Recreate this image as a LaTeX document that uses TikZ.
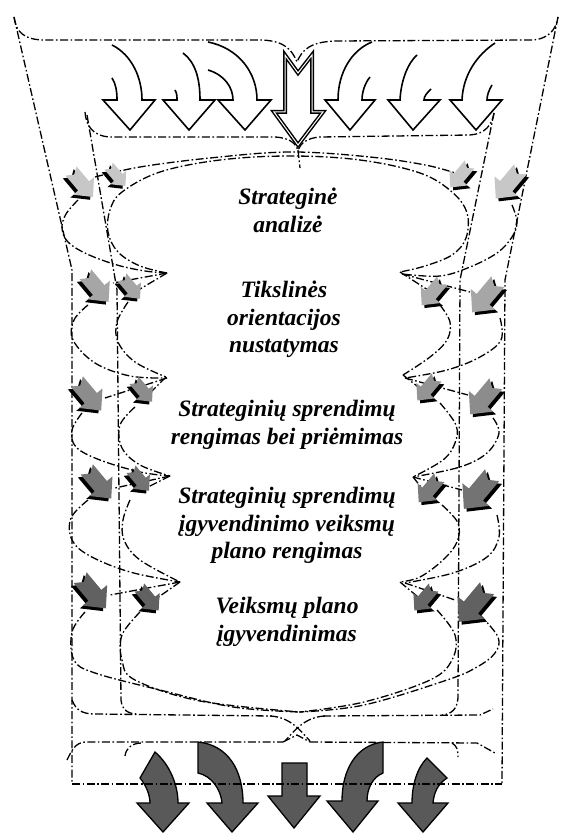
\documentclass[tikz,border=0pt]{standalone}
\usepackage{fontspec}
\setmainfont{Liberation Serif}
\newfontfamily\lblfont{Liberation Serif Bold Italic}
\newcommand\garr[6]{%
 \begin{scope}[shift={(#1,#2)}]
   \begin{scope}[shift={(#6,2.8)},rotate=#3,scale=#4]
     \fill[black] (-1,-0.42) -- (0.15,-0.42) -- (0.15,-0.8) -- (1,0) -- (0.15,0.8) -- (0.15,0.42) -- (-1,0.42) -- (-0.72,0) -- cycle;
   \end{scope}
   \begin{scope}[rotate=#3,scale=#4]
     \fill[#5] (-1,-0.42) -- (0.15,-0.42) -- (0.15,-0.8) -- (1,0) -- (0.15,0.8) -- (0.15,0.42) -- (-1,0.42) -- (-0.72,0) -- cycle;
   \end{scope}
 \end{scope}}
\begin{document}
\begin{tikzpicture}[x=1pt,y=-1pt,
  dd/.style={line width=1.3pt, dash pattern=on 8pt off 2.5pt on 1.6pt off 2.5pt},
  hollow/.style={draw=black, line width=1.6pt, fill=white, line join=miter},
  dark/.style={draw=black, line width=1.3pt, fill=black!65},
  lbl/.style={font=\lblfont\fontsize{23.5}{27.5}\selectfont, align=center, anchor=north, inner sep=0pt}]
\fill[white] (0,0) rectangle (569,834);
\useasboundingbox (0,0) rectangle (569,834);

% ---------- funnel lines ----------
\draw[dd] (14,17) -- (72,270) -- (72,784);
\draw[dd] (558,17) -- (505,280) -- (502,784);
\draw[dd] (87,115) -- (117,290) -- (121,700) .. controls (122,710) and (128,714) .. (138,714);
\draw[dd] (494,113) -- (460,280) -- (458,698) .. controls (457,709) and (452,714) .. (442,715);
% top brace
\draw[dd] (14,17) .. controls (16,32) and (24,40) .. (45,40) -- (262,40) .. controls (285,41) and (292,50) .. (297,62)
          .. controls (302,50) and (310,42) .. (335,41) -- (530,40) .. controls (548,40) and (556,30) .. (558,17);
% lower brace
\draw[dd] (85,112) .. controls (86,125) and (92,136) .. (110,137) -- (275,137) .. controls (290,138) and (295,143) .. (298,150)
          .. controls (301,143) and (307,138) .. (320,137) -- (470,135) .. controls (485,134) and (492,125) .. (494,113);
\draw[dd] (298,150) -- (300,168);

% ---------- lobes ----------
\draw[dd] plot[smooth,tension=0.6] coordinates {(95,177) (140,167) (210,158) (290,152) (370,157) (430,166) (470,178)};
\draw[dd] plot[smooth,tension=0.6] coordinates {(167,273) (140,266) (118,252) (108,232) (110,210) (122,192) (160,172) (220,160) (290,156) (360,160) (420,173) (452,192) (467,213) (466,238) (452,255) (425,266) (400,272)};
% left inner
\draw[dd] (167,273) -- (135,292);
\draw[dd] plot[smooth,tension=0.6] coordinates {(128,302) (117,322) (118,342) (135,362) (166,377)};
\draw[dd] (166,377) -- (145,398);
\draw[dd] plot[smooth,tension=0.6] coordinates {(135,407) (120,425) (122,448) (140,465) (170,476)};
\draw[dd] (170,476) -- (138,492);
\draw[dd] plot[smooth,tension=0.6] coordinates {(130,500) (123,520) (124,540) (140,560) (180,582)};
\draw[dd] (180,582) -- (150,603);
\draw[dd] plot[smooth,tension=0.6] coordinates {(140,612) (122,635) (122,660) (135,680) (200,701) (300,712)};
% left outer
\draw[dd] plot[smooth,tension=0.6] coordinates {(78,200) (66,214) (62,228) (68,242) (87,254) (117,265) (145,271) (167,273)};
\draw[dd] (167,273) -- (113,283);
\draw[dd] plot[smooth,tension=0.6] coordinates {(88,305) (74,320) (73,340) (95,363) (130,376) (167,378)};
\draw[dd] (167,378) -- (105,398);
\draw[dd] plot[smooth,tension=0.6] coordinates {(82,413) (72,430) (76,447) (100,460) (140,472) (170,476)};
\draw[dd] (170,476) -- (115,488);
\draw[dd] plot[smooth,tension=0.6] coordinates {(88,500) (71,518) (72,540) (90,556) (130,572) (180,582)};
\draw[dd] (180,582) -- (110,595);
\draw[dd] plot[smooth,tension=0.6] coordinates {(85,612) (72,632) (74,660) (95,673) (160,690) (233,707) (300,712)};
% right inner
\draw[dd] (400,272) -- (428,290);
\draw[dd] plot[smooth,tension=0.6] coordinates {(440,305) (450,322) (447,340) (430,357) (403,375)};
\draw[dd] (403,375) -- (422,390);
\draw[dd] plot[smooth,tension=0.6] coordinates {(440,403) (456,425) (455,443) (443,460) (413,477)};
\draw[dd] (413,477) -- (425,492);
\draw[dd] plot[smooth,tension=0.6] coordinates {(442,505) (458,523) (457,542) (443,560) (420,577) (400,582)};
\draw[dd] (400,582) -- (418,597);
\draw[dd] plot[smooth,tension=0.6] coordinates {(437,610) (455,635) (452,660) (430,680) (364,702) (300,712)};
% right outer
\draw[dd] plot[smooth,tension=0.6] coordinates {(512,205) (517,222) (512,237) (497,253) (470,267) (440,276) (402,274)};
\draw[dd] (402,274) -- (470,292);
\draw[dd] plot[smooth,tension=0.6] coordinates {(500,318) (501,340) (480,357) (447,370) (405,378)};
\draw[dd] (405,378) -- (468,395);
\draw[dd] plot[smooth,tension=0.6] coordinates {(493,418) (499,433) (487,453) (460,467) (413,477)};
\draw[dd] (413,477) -- (462,490);
\draw[dd] plot[smooth,tension=0.6] coordinates {(497,515) (499,537) (487,557) (453,573) (405,583)};
\draw[dd] (405,583) -- (455,600);
\draw[dd] plot[smooth,tension=0.6] coordinates {(480,615) (498,637) (495,653) (477,667) (447,680) (364,705) (300,712)};

% ---------- bottom tray ----------
\draw[dd] (72,700) .. controls (76,710) and (82,714) .. (95,714) -- (272,716);
\draw[dd] (323,716) -- (480,715) -- (493,709);
\draw[dd] (270,716) .. controls (290,717) and (300,730) .. (310,741);
\draw[dd] (325,716) .. controls (305,717) and (295,730) .. (285,741);
\draw[dd] (67,760) .. controls (72,750) and (75,743) .. (85,742) -- (283,742);
\draw[dd] (283,742) -- (297,735) -- (310,742);
\draw[dd] (310,742) -- (477,743) -- (495,753);
\draw[dd] (125,756) .. controls (126,748) and (132,743) .. (142,743);
\draw[dd] (452,743) .. controls (457,746) and (458,750) .. (458,757);

% ---------- top hollow arrows ----------
\draw[hollow] (112,78) .. controls (116,84) and (117,92) .. (117,100) -- (103,100) -- (130,130) -- (155,100) -- (142,100) .. controls (142,78) and (132,55) .. (112,45);
\draw[hollow] (175,90) .. controls (177,93) and (177,97) .. (177,100) -- (163,100) -- (189,130) -- (215,100) -- (200,100) .. controls (200,78) and (195,62) .. (183,53);
\draw[hollow] (208,70) .. controls (225,75) and (233,88) .. (233,100) -- (218,100) -- (245,130) -- (271,100) -- (257,100) .. controls (257,72) and (238,48) .. (208,42);
\draw[draw=black, line width=1.5pt, double=white, double distance=1pt, fill=white, line join=miter]
  (285,55) -- (298,73) -- (312,55) -- (312,112) -- (323,112) -- (298,145) -- (274,112) -- (285,112) -- cycle;
\draw[hollow] (370,77) .. controls (365,83) and (362,92) .. (362,100) -- (375,100) -- (350,130) -- (325,100) -- (338,100) .. controls (338,72) and (352,50) .. (372,42);
\draw[hollow] (431,89) .. controls (427,93) and (424,96) .. (424,100) -- (440,100) -- (413,130) -- (388,100) -- (400,100) .. controls (401,80) and (408,63) .. (417,55);
\draw[hollow] (492,85) .. controls (489,90) and (487,95) .. (487,100) -- (502,100) -- (476,130) -- (450,100) -- (462,100) .. controls (463,75) and (477,55) .. (495,43);

% ---------- grey arrows ----------
\garr{82}{184}{-50}{17}{black!22}{-2.8}
\garr{117}{176}{-50}{13}{black!22}{-2.8}
\garr{97}{288}{-50}{18}{black!35}{-2.8}
\garr{131}{288}{-50}{14}{black!35}{-2.8}
\garr{89}{396}{-50}{19}{black!45}{-2.8}
\garr{143}{391}{-50}{14}{black!45}{-2.8}
\garr{99}{484}{-50}{19}{black!55}{-2.8}
\garr{140}{480}{-50}{14}{black!55}{-2.8}
\garr{93}{593}{-50}{20}{black!62}{-2.8}
\garr{149}{599}{-50}{15}{black!62}{-2.8}
\garr{460}{176}{-130}{15}{black!22}{2.8}
\garr{508}{184}{-130}{19}{black!22}{2.8}
\garr{432}{293}{-130}{16}{black!33}{2.8}
\garr{485}{297}{-130}{20}{black!35}{2.8}
\garr{427}{389}{-130}{15}{black!42}{2.8}
\garr{483}{399}{-130}{20}{black!45}{2.8}
\garr{429}{490}{-130}{16}{black!52}{2.8}
\garr{478}{492}{-130}{22}{black!55}{2.8}
\garr{424}{599}{-130}{15}{black!60}{2.8}
\garr{473}{605}{-130}{22}{black!62}{2.8}

% ---------- bottom dark arrows ----------
\draw[dark] (155,752) .. controls (170,765) and (178,785) .. (178,803) -- (189,803) -- (163,832) -- (137,803) -- (150,803) .. controls (150,795) and (146,785) .. (140,778) -- cycle;
\draw[dark] (198,742) .. controls (228,745) and (243,770) .. (243,803) -- (258,803) -- (232,832) -- (207,803) -- (222,803) .. controls (221,790) and (212,776) .. (198,773) -- cycle;
\draw[dark] (282,763) -- (307,763) -- (307,796) -- (320,796) -- (294,828) -- (268,796) -- (282,796) -- cycle;
\draw[dark] (383,742) .. controls (356,745) and (342,770) .. (342,801) -- (327,801) -- (353,832) -- (378,801) -- (367,801) .. controls (367,788) and (373,777) .. (383,773) -- cycle;
\draw[dark] (427,758) .. controls (417,768) and (412,785) .. (412,803) -- (398,803) -- (423,832) -- (448,803) -- (433,803) .. controls (434,792) and (438,784) .. (447,778) -- cycle;
\draw[dd] (72,784) -- (502,784);

% ---------- texts ----------
\node[lbl] (t1) at (288,188) {Strateginė\\analizė};
\node[lbl] (t2) at (284,281) {Tikslinės\\orientacijos\\nustatymas};
\node[lbl] (t3) at (287,400) {Strateginių sprendimų\\rengimas bei priėmimas};
\node[lbl] (t4) at (287,487) {Strateginių sprendimų\\įgyvendinimo veiksmų\\plano rengimas};
\node[lbl] (t5) at (287,597) {Veiksmų plano\\įgyvendinimas};
\end{tikzpicture}
\end{document}
